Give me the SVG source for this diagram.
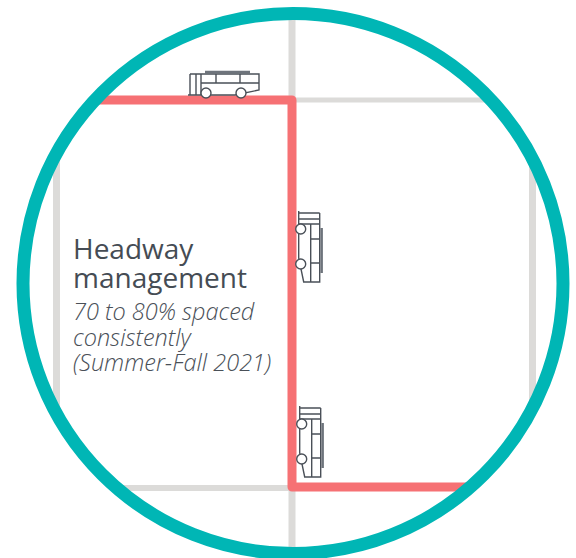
<svg xmlns="http://www.w3.org/2000/svg" width="576" height="558" viewBox="0 0 576 558">
<defs>
<style>
.street{fill:none;stroke:#dcdbd9}
.route{fill:none;stroke:#f67174;stroke-width:9;stroke-linejoin:round}
.bus{fill:none;stroke:#4a5058;stroke-width:1.4}
.wheel{fill:#fff;stroke:#4a5058;stroke-width:1.4}
.roof{fill:none;stroke:#6e747c;stroke-width:2.4}
.h{font-family:"Open Sans","Noto Sans",sans-serif;font-size:28px;fill:#454c54}
.s{font-family:"Open Sans","Noto Sans",sans-serif;font-size:23.500px;font-style:italic;font-weight:300;fill:#4a5058}
</style>
<g id="busShape">
<path class="roof" d="M35 1H80"/>
<path class="bus" d="M20 3H89V19L65 24H18M20 3V24M26 3V24M31 3V24M31 12H89M46 3V12M70 3V12"/>
<circle class="wheel" cx="36" cy="22" r="5"/>
<circle class="wheel" cx="71" cy="22" r="5"/>
</g>
</defs>
<rect width="576" height="558" fill="#fff"/>
<g id="connectors">
<path class="street" stroke-width="7" d="M292 12V552"/>
<path class="street" stroke-width="5" d="M292 100H490"/>
<path class="street" stroke-width="7" d="M56.500 155V411"/>
<path class="street" stroke-width="7" d="M532.500 160V407"/>
<path class="street" stroke-width="6" d="M120 488H292"/>
<path class="route" d="M98 100H292V487H470"/>
</g>
<g id="bus-top"><use href="#busShape" transform="translate(170 71)"/></g>
<g id="bus-middle"><use href="#busShape" transform="translate(322.700 193) rotate(90)"/></g>
<g id="bus-bottom"><use href="#busShape" transform="translate(323.700 388) rotate(90)"/></g>
<g id="ring"><circle cx="293" cy="283.500" r="270" fill="none" stroke="#00b6b5" stroke-width="13"/></g>
<g id="label">
<text class="h" x="73" y="259">Headway</text>
<text class="h" x="73" y="288">management</text>
<text class="s" x="73" y="320">70 to 80% spaced</text>
<text class="s" x="73" y="346">consistently</text>
<text class="s" x="73" y="371">(Summer-Fall 2021)</text>
</g>
</svg>
